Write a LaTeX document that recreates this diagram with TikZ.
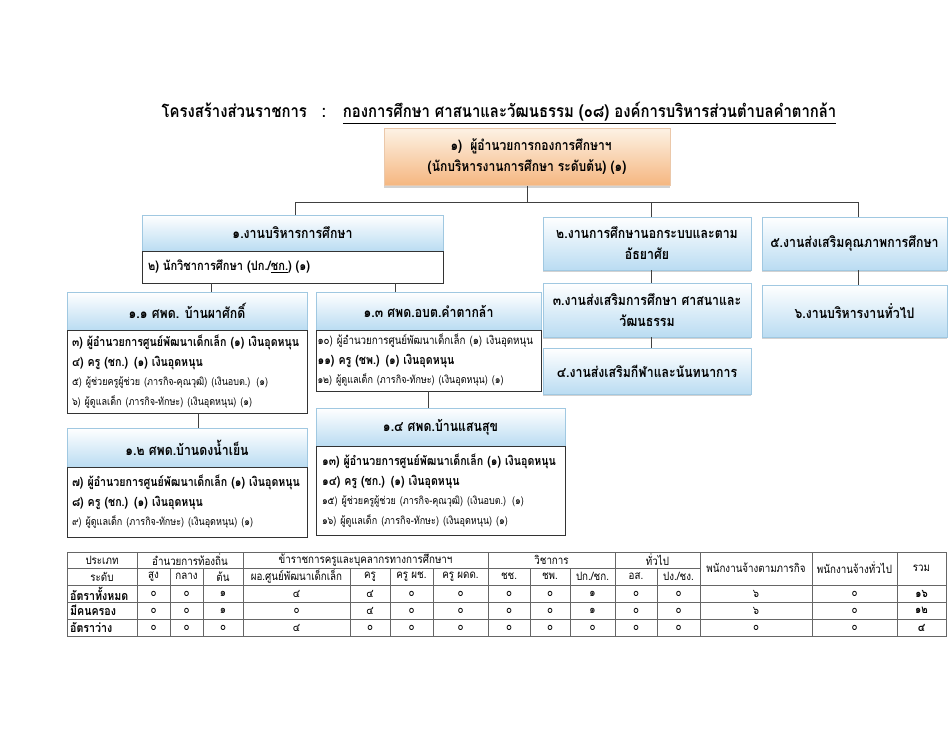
\documentclass[tikz,border=0pt]{standalone}
\usepackage{fontspec}
\newfontfamily\thai[Script=Thai,FakeStretch=0.85]{Loma}
\usetikzlibrary{shadows}
\definecolor{hdrblue}{RGB}{186,220,242}
\definecolor{hdrline}{RGB}{160,200,225}
\definecolor{orgtop}{RGB}{253,242,228}
\definecolor{orgbot}{RGB}{245,182,128}
\definecolor{orgline}{RGB}{235,200,170}
\begin{document}
\begin{tikzpicture}[x=1pt,y=-1pt,
  hdr/.style={draw=hdrline, line width=0.6pt, top color=white, bottom color=hdrblue,
    drop shadow={shadow xshift=0pt,shadow yshift=-2pt,opacity=0.35},
    font=\thai\bfseries\fontsize{14.5}{21}\selectfont, align=center, inner sep=2pt},
  topbox/.style={draw=orgline, line width=0.6pt, top color=orgtop, bottom color=orgbot,
    drop shadow={shadow xshift=0pt,shadow yshift=-2pt,opacity=0.35},
    font=\thai\bfseries\fontsize{14.2}{21}\selectfont, align=center},
  bodybox/.style={draw=black!80, line width=0.8pt, fill=white, align=left,
    font=\thai\fontsize{12}{19.5}\selectfont, inner xsep=6pt},
  conn/.style={draw=black!75, line width=0.7pt},
  grid/.style={draw=black!60, line width=0.5pt},
  cell/.style={font=\thai\fontsize{11.5}{12}\selectfont, inner sep=0pt},
  rowlab/.style={font=\thai\bfseries\fontsize{12.5}{13}\selectfont, inner sep=0pt, anchor=west}
]
\useasboundingbox[fill=white] (0,0) rectangle (950,734);
\newcommand{\bline}[1]{{\bfseries\fontsize{12.5}{19.5}\selectfont #1}}
\newcommand{\sline}[1]{{\fontsize{10.6}{19.5}\selectfont #1}}

% title
\node[font=\thai\bfseries\fontsize{17.5}{20}\selectfont, anchor=center] (title) at (499,113)
  {โครงสร้างส่วนราชการ \ \ : \ \ \underline{กองการศึกษา ศาสนาและวัฒนธรรม (๐๘) องค์การบริหารส่วนตำบลคำตากล้า}};

% top box
\node[topbox, minimum width=286pt, minimum height=57pt] (top) at (527,157)
  {\ \ ๑) \ ผู้อำนวยการกองการศึกษาฯ\\(นักบริหารงานการศึกษา ระดับต้น) (๑)};

% box 1
\node[hdr, minimum width=301pt, minimum height=36pt] (b1h) at (292.5,233) {๑.งานบริหารการศึกษา};
\node[bodybox, minimum width=301pt, minimum height=32pt, text width=289pt] (b1b) at (292.5,267)
  {{\bfseries\fontsize{13}{19.5}\selectfont ๒) นักวิชาการศึกษา (ปก./\underline{ชก.}) (๑)}};

% 1.1
\node[hdr, minimum width=240pt, minimum height=38pt] (b11h) at (187,311) {๑.๑ ศพด. บ้านผาศักดิ์};
\node[bodybox, minimum width=240pt, minimum height=83pt, text width=230pt, inner xsep=5pt] (b11b) at (187,371.5)
  {\bline{๓) ผู้อำนวยการศูนย์พัฒนาเด็กเล็ก (๑) เงินอุดหนุน}\\
   \bline{๔) ครู (ชก.) (๑) เงินอุดหนุน}\\
   \sline{๕) ผู้ช่วยครูผู้ช่วย (ภารกิจ-คุณวุฒิ) (เงินอบต.) (๑)}\\
   \sline{๖) ผู้ดูแลเด็ก (ภารกิจ-ทักษะ) (เงินอุดหนุน) (๑)}};

% 1.2
\node[hdr, minimum width=240pt, minimum height=39pt] (b12h) at (187,447.5) {๑.๒ ศพด.บ้านดงน้ำเย็น};
\node[bodybox, minimum width=240pt, minimum height=70pt, text width=230pt, inner xsep=5pt] (b12b) at (187,502)
  {\bline{๗) ผู้อำนวยการศูนย์พัฒนาเด็กเล็ก (๑) เงินอุดหนุน}\\
   \bline{๘) ครู (ชก.) (๑) เงินอุดหนุน}\\
   \sline{๙) ผู้ดูแลเด็ก (ภารกิจ-ทักษะ) (เงินอุดหนุน) (๑)}};

% 1.3
\node[hdr, minimum width=225pt, minimum height=38pt] (b13h) at (428.5,311) {๑.๓ ศพด.อบต.คำตากล้า};
\node[bodybox, minimum width=225pt, minimum height=61pt, text width=222pt, inner xsep=1.5pt] (b13b) at (428.5,360.5)
  {{\fontsize{11.5}{19}\selectfont ๑๐) ผู้อำนวยการศูนย์พัฒนาเด็กเล็ก (๑) เงินอุดหนุน}\\
   \bline{๑๑) ครู (ชพ.) (๑) เงินอุดหนุน}\\
   \sline{๑๒) ผู้ดูแลเด็ก (ภารกิจ-ทักษะ) (เงินอุดหนุน) (๑)}};

% 1.4
\node[hdr, minimum width=249pt, minimum height=38pt] (b14h) at (440.5,427) {๑.๔ ศพด.บ้านแสนสุข};
\node[bodybox, minimum width=249pt, minimum height=89pt, text width=237pt] (b14b) at (440.5,490.5)
  {\bline{๑๓) ผู้อำนวยการศูนย์พัฒนาเด็กเล็ก (๑) เงินอุดหนุน}\\
   \bline{๑๔) ครู (ชก.) (๑) เงินอุดหนุน}\\
   \sline{๑๕) ผู้ช่วยครูผู้ช่วย (ภารกิจ-คุณวุฒิ) (เงินอบต.) (๑)}\\
   \sline{๑๖) ผู้ดูแลเด็ก (ภารกิจ-ทักษะ) (เงินอุดหนุน) (๑)}};

% right column
\node[hdr, minimum width=208pt, minimum height=53pt] (b2) at (647,243.5) {๒.งานการศึกษานอกระบบและตาม\\อัธยาศัย};
\node[hdr, minimum width=208pt, minimum height=54pt] (b3) at (647,310) {๓.งานส่งเสริมการศึกษา ศาสนาและ\\วัฒนธรรม};
\node[hdr, minimum width=208pt, minimum height=46pt] (b4) at (647,371) {๔.งานส่งเสริมกีฬาและนันทนาการ};
\node[hdr, minimum width=185pt, minimum height=53pt] (b5) at (854.5,243.5) {๕.งานส่งเสริมคุณภาพการศึกษา};
\node[hdr, minimum width=185pt, minimum height=52pt] (b6) at (854.5,311) {๖.งานบริหารงานทั่วไป};

% connectors
\coordinate (j) at (527,202);
\draw[conn] (top.south) -- (j);
\draw[conn] ([xshift=3pt]b1h.north) -- ([xshift=3pt]b1h.north |- j) -- ([xshift=4pt]b5.north |- j) -- ([xshift=4pt]b5.north);
\draw[conn] ([xshift=4pt]b2.north |- j) -- ([xshift=4pt]b2.north);
\draw[conn] ([xshift=24pt]b1b.south -| b11h.north) -- ([xshift=24pt]b11h.north);
\draw[conn] ([xshift=-33.5pt]b1b.south -| b13h.north) -- ([xshift=-33.5pt]b13h.north);
\draw[conn] ([xshift=11pt]b11b.south) -- ([xshift=11pt]b12h.north);
\draw[conn] (b13b.south) -- (b13b.south |- b14h.north);
\draw[conn] ([xshift=4pt]b2.south) -- ([xshift=4pt]b3.north);
\draw[conn] ([xshift=4pt]b3.south) -- ([xshift=4pt]b4.north);
\draw[conn] ([xshift=4pt]b5.south) -- ([xshift=4pt]b6.north);

% table grid
\draw[grid] (67,552) rectangle (946,636);
\draw[grid] (67,568) -- (700,568);
\foreach \yy in {585,602,619} \draw[grid] (67,\yy) -- (946,\yy);
\foreach \xx in {137,243,488,615,700,812,897} \draw[grid] (\xx,552) -- (\xx,636);
\foreach \xx in {170,203,350,390,433,530,570,657} \draw[grid] (\xx,568) -- (\xx,636);

% table header
\node[cell] (h-a) at (102,560) {ประเภท};
\node[cell] (h-b) at (190,560) {อำนวยการท้องถิ่น};
\node[cell] (h-c) at (365.5,560) {ข้าราชการครูและบุคลากรทางการศึกษาฯ};
\node[cell] (h-d) at (551.5,560) {วิชาการ};
\node[cell] (h-e) at (657.5,560) {ทั่วไป};
\node[cell] (h-f) at (756,568) {พนักงานจ้างตามภารกิจ};
\node[cell] (h-g) at (854.5,568) {พนักงานจ้างทั่วไป};
\node[cell] (h-h) at (921.5,568) {รวม};
\foreach \xc/\tx [count=\k] in {102/ระดับ,153.5/สูง,186.5/กลาง,223/ต้น,296.5/ผอ.ศูนย์พัฒนาเด็กเล็ก,370/ครู,411.5/ครู ผช.,460.5/ครู ผดด.,509/ชช.,550/ชพ.,592.5/{ปก./ชก.},636/อส.,678.5/{ปง./ชง.}}
  \node[cell] (s-\k) at (\xc,576.5) {\tx};

% table rows
\node[rowlab] (r1) at (70,593.5) {อัตราทั้งหมด};
\node[rowlab] (r2) at (70,610.5) {มีคนครอง};
\node[rowlab] (r3) at (70,627.5) {อัตราว่าง};
\foreach \xc/\va/\vb/\vc [count=\k] in {153.5/๐/๐/๐,186.5/๐/๐/๐,223/๑/๑/๐,296.5/๔/๐/๔,370/๔/๔/๐,411.5/๐/๐/๐,460.5/๐/๐/๐,509/๐/๐/๐,550/๐/๐/๐,592.5/๑/๑/๐,636/๐/๐/๐,678.5/๐/๐/๐,756/๖/๖/๐,854.5/๐/๐/๐}
{
  \node[cell] (va-\k) at (\xc,593.5) {\va};
  \node[cell] (vb-\k) at (\xc,610.5) {\vb};
  \node[cell] (vc-\k) at (\xc,627.5) {\vc};
}
\node[cell, font=\thai\bfseries\fontsize{11.5}{12}\selectfont] (t1) at (921.5,593.5) {๑๖};
\node[cell, font=\thai\bfseries\fontsize{11.5}{12}\selectfont] (t2) at (921.5,610.5) {๑๒};
\node[cell, font=\thai\bfseries\fontsize{11.5}{12}\selectfont] (t3) at (921.5,627.5) {๔};
\end{tikzpicture}
\end{document}
